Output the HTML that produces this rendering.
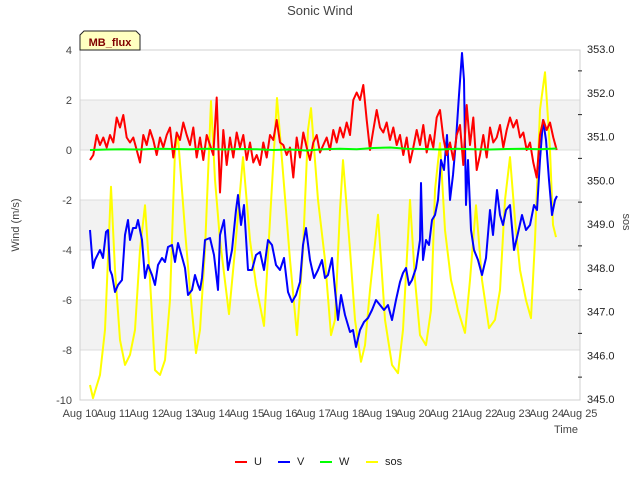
<!DOCTYPE html>
<html><head><meta charset="utf-8"><style>
body{margin:0;background:#fff;}
svg{display:block;font-family:"Liberation Sans","DejaVu Sans",sans-serif;}
</style></head><body>
<svg id="chart" width="640" height="480">
<rect x="80" y="100" width="500" height="50" fill="#f2f2f2"/>
<rect x="80" y="200" width="500" height="50" fill="#f2f2f2"/>
<rect x="80" y="300" width="500" height="50" fill="#f2f2f2"/>
<g id="grid"></g>
<rect x="80" y="50" width="500" height="350" fill="none" stroke="#d0d0d0"/>
<g id="series"></g>
<g id="axes"></g>
<text x="320" y="15" text-anchor="middle" font-size="13" fill="#444">Sonic Wind</text>
<text transform="translate(19,225) rotate(-90)" text-anchor="middle" font-size="11" fill="#444">Wind (m/s)</text>
<text transform="translate(623,222) rotate(90)" text-anchor="middle" font-size="11" fill="#444">sos</text>
<text x="578" y="433" text-anchor="end" font-size="11" fill="#444">Time</text>
<g>
<path d="M80,50 L80,35 L84,31 L136,31 L140,35 L140,50 Z" fill="#ffffc0" stroke="#222"/>
<text x="110" y="46" text-anchor="middle" font-size="11" font-weight="bold" fill="#800000">MB_flux</text>
</g>
<g id="legend"></g>
</svg>
<script>
const uStart = 10.3, uStep = 0.1;
const uValues = [-0.4,-0.2,0.6,0.2,0.5,0.1,0.6,0.3,
1.3,0.9,1.4,0.5,0.3,0.5,0.0,-0.5,0.6,0.2,
0.8,0.4,-0.2,0.5,0.1,0.6,0.9,-0.3,0.7,0.4,
1.1,0.6,0.2,0.9,-0.3,0.5,-0.4,0.6,0.2,-0.2,
2.1,-1.7,0.8,-0.6,0.5,-0.3,0.7,0.1,0.6,-0.4,
0.3,-0.5,-0.2,-0.6,0.3,-0.3,0.6,0.4,1.2,0.3,
0.2,-0.2,0.1,-1.1,0.5,-0.3,0.7,0.1,-0.4,0.3,
0.6,-0.1,0.2,0.5,0.0,0.8,0.3,0.9,0.5,1.1,
0.6,2.0,2.3,2.0,2.6,1.2,0.0,0.8,1.6,0.9,
0.7,1.1,0.4,0.9,0.2,0.6,-0.2,0.5,-0.5,0.1,
0.8,0.2,1.0,-0.1,0.6,0.1,1.3,1.6,0.5,-0.2,
0.3,-0.4,0.6,1.0,-0.6,1.8,0.2,1.3,-0.8,-0.2,
0.6,-0.3,0.9,0.3,0.5,1.0,0.1,0.8,1.3,0.9,
1.2,0.5,0.7,0.0,0.3,-0.5,-1.1,0.6,1.2,0.8,
1.1,0.5,0.0];
const vTimes = [10.3,10.39,10.45,10.6,10.69,10.78,10.84,10.9,10.96,11.05,11.14,11.26,11.35,11.44,11.5,11.59,11.68,11.74,11.86,11.95,12.04,12.16,12.25,12.34,12.46,12.55,12.64,12.76,12.85,12.94,13.06,13.15,13.24,13.36,13.45,13.54,13.6,13.66,13.75,13.9,14.02,14.14,14.2,14.32,14.44,14.56,14.68,14.74,14.83,14.92,15.04,15.16,15.28,15.4,15.52,15.64,15.76,15.88,16,16.12,16.24,16.36,16.48,16.6,16.69,16.78,16.9,17.02,17.14,17.26,17.35,17.44,17.56,17.65,17.74,17.83,17.95,18.1,18.19,18.28,18.4,18.52,18.64,18.76,18.88,19,19.12,19.24,19.36,19.48,19.6,19.69,19.78,19.87,19.96,20.08,20.2,20.23,20.29,20.38,20.47,20.56,20.65,20.74,20.83,20.92,21.01,21.1,21.19,21.28,21.37,21.46,21.52,21.58,21.64,21.73,21.82,21.94,22.06,22.18,22.3,22.39,22.51,22.6,22.69,22.78,22.9,23.02,23.14,23.26,23.38,23.5,23.62,23.71,23.8,23.89,23.98,24.07,24.16,24.25,24.31];
const vValues = [-3.2,-4.72,-4.4,-4,-4.32,-3.28,-3.2,-4.8,-5,-5.68,-5.4,-5.2,-3.4,-2.8,-3.6,-3.12,-3.12,-2.8,-3.6,-5.12,-4.6,-5,-5.4,-4.6,-4.32,-4.48,-3.88,-3.8,-4.48,-3.72,-4.28,-4.72,-5.8,-5.6,-5,-5.4,-5.6,-5.12,-3.6,-3.52,-4.2,-5.6,-3.4,-2.8,-4.8,-4,-2.4,-1.8,-3,-2.2,-4.8,-4.8,-4.2,-4.08,-4.8,-3.6,-3.8,-4.6,-4.8,-4.32,-5.68,-6.08,-5.8,-5.28,-3.8,-3.12,-4.4,-5.12,-4.8,-4.4,-5.12,-5,-4.32,-5.6,-6.8,-5.8,-6.6,-7.28,-7.2,-7.88,-7.2,-6.88,-6.72,-6.4,-6,-6.2,-6.4,-6.2,-6.8,-6,-5.28,-4.92,-4.72,-5.4,-5.2,-4.72,-3.6,-1.32,-4.4,-3.6,-3.8,-2.8,-2.6,-2,-0.4,-0.8,0.6,-2,-1,0.4,2.2,3.88,2.8,-2.2,-0.4,-3.2,-4,-4.4,-5,-4.32,-2.4,-3.4,-1.6,-2.6,-3,-2.4,-2.2,-4,-3.32,-2.6,-3.2,-3,-2.2,-2.4,-0.4,1.2,0.4,-1.2,-2.6,-2,-1.84];
const wStart = 10.3, wStep = 0.5;
const wValues = [0.0,0.02,0.03,0.02,0.05,0.04,0.03,0.05,0.02,0.04,0.03,0.0,0.02,-0.02,0.03,0.05,0.03,0.08,0.1,0.05,0.04,0.02,0.05,0.03,0.02,0.04,0.05,0.03,0.06];
const sosTimes = [10.3,10.39,10.6,10.75,10.93,11.05,11.2,11.35,11.5,11.65,11.8,11.95,12.1,12.25,12.4,12.55,12.7,12.85,12.94,13.15,13.3,13.48,13.6,13.75,13.93,14.05,14.2,14.47,14.65,14.89,15.1,15.28,15.52,15.7,15.91,16.06,16.3,16.51,16.69,16.84,16.93,17.14,17.35,17.53,17.65,17.8,17.89,18.1,18.25,18.43,18.55,18.7,18.94,19.15,19.36,19.54,19.69,19.9,20.05,20.2,20.38,20.53,20.65,20.8,20.95,21.13,21.34,21.55,21.7,21.88,22.06,22.27,22.45,22.6,22.75,22.9,23.05,23.2,23.38,23.53,23.65,23.8,23.95,24.1,24.19,24.28];
const sosValues = [345.32,345.02,345.55,346.58,349.85,347.95,346.35,345.78,346.01,346.58,348.41,349.43,347.72,345.66,345.55,345.89,347.26,350.69,350.99,348.86,347.49,346.05,346.58,348.41,351.81,350.01,348.63,346.94,348.41,350.53,348.63,347.61,346.67,349.09,351.88,350.46,348.18,346.46,348.41,351.15,351.65,349.55,348.18,346.46,346.81,349.32,350.46,348.41,346.81,345.85,346.23,347.49,349.21,346.81,345.78,345.59,346.58,349.55,347.72,346.46,346.23,347.03,349.78,350.85,348.86,347.72,347.03,346.51,347.72,349.43,347.72,346.62,346.81,347.49,349.55,350.53,349.09,347.95,347.26,346.85,348.63,351.61,352.47,350.69,348.98,348.70];
const xTickLabels = ["Aug 10","Aug 11","Aug 12","Aug 13","Aug 14","Aug 15","Aug 16","Aug 17","Aug 18","Aug 19","Aug 20","Aug 21","Aug 22","Aug 23","Aug 24","Aug 25"];
const yTicks = [4,2,0,-2,-4,-6,-8,-10];
const y2Ticks = [353,352,351,350,349,348,347,346,345];

const NS = "http://www.w3.org/2000/svg";
const X0=80,X1=580,Y0=50,Y1=400;
const xs = d => X0 + (d-10)/15*(X1-X0);
const ys = v => Y0 + (4-v)/14*(Y1-Y0);
const ys2 = v => 49 + (353-v)/8*(399-49);
function mk(tag, attrs, parent){const e=document.createElementNS(NS,tag);for(const k in attrs)e.setAttribute(k,attrs[k]);parent.appendChild(e);return e;}
const grid=document.getElementById('grid'), axes=document.getElementById('axes'), series=document.getElementById('series'), legend=document.getElementById('legend');
yTicks.forEach(v=>{
  const l=mk('line',{x1:X0,x2:X1,y1:ys(v),y2:ys(v),stroke:'#dcdcdc'},grid);
  
  
  const t=mk('text',{x:72,y:ys(v)+4,'text-anchor':'end','font-size':11,fill:'#444'},axes);
  t.textContent=v;
  
  
});
y2Ticks.forEach((v,i)=>{
  const t=mk('text',{x:587,y:ys2(v)+4,'font-size':11,fill:'#222'},axes);
  t.textContent=v.toFixed(1);
  
  
  if(i<y2Ticks.length-1){
    const m=mk('line',{x1:578,x2:582,y1:ys2(v-0.5),y2:ys2(v-0.5),stroke:'#222'},axes);
    
    
  }
});
xTickLabels.forEach((s,i)=>{
  const t=mk('text',{x:xs(10+i),y:417,'text-anchor':'middle','font-size':11,fill:'#444'},axes);
  t.textContent=s;
  
  
});
function line(pts,color,name){
  const p=mk('polyline',{points:pts.map(q=>q[0].toFixed(1)+','+q[1].toFixed(1)).join(' '),fill:'none',stroke:color,'stroke-width':2,'stroke-linejoin':'round'},series);
  
  
}
line(sosValues.map((v,i)=>[xs(sosTimes[i]),ys2(v)]),'#ffff00','series-sos');
line(vValues.map((v,i)=>[xs(vTimes[i]),ys(v)]),'#0000ff','series-v');
line(uValues.map((v,i)=>[xs(uStart+i*uStep),ys(v)]),'#ff0000','series-u');
line(wValues.map((v,i)=>[xs(wStart+i*wStep),ys(v)]),'#00ff00','series-w');
const legendNames=['U','V','W','sos'], legendColors=['#ff0000','#0000ff','#00ff00','#ffff00'], legendX=[235,278,320,366];
legendNames.forEach((n,i)=>{
  const l=mk('line',{x1:legendX[i],x2:legendX[i]+12,y1:462,y2:462,stroke:legendColors[i],'stroke-width':2},legend);
  
  
  const t=mk('text',{x:legendX[i]+19,y:465,'font-size':11,fill:'#222'},legend);
  t.textContent=n;
  
  
});
</script>
</body></html>
